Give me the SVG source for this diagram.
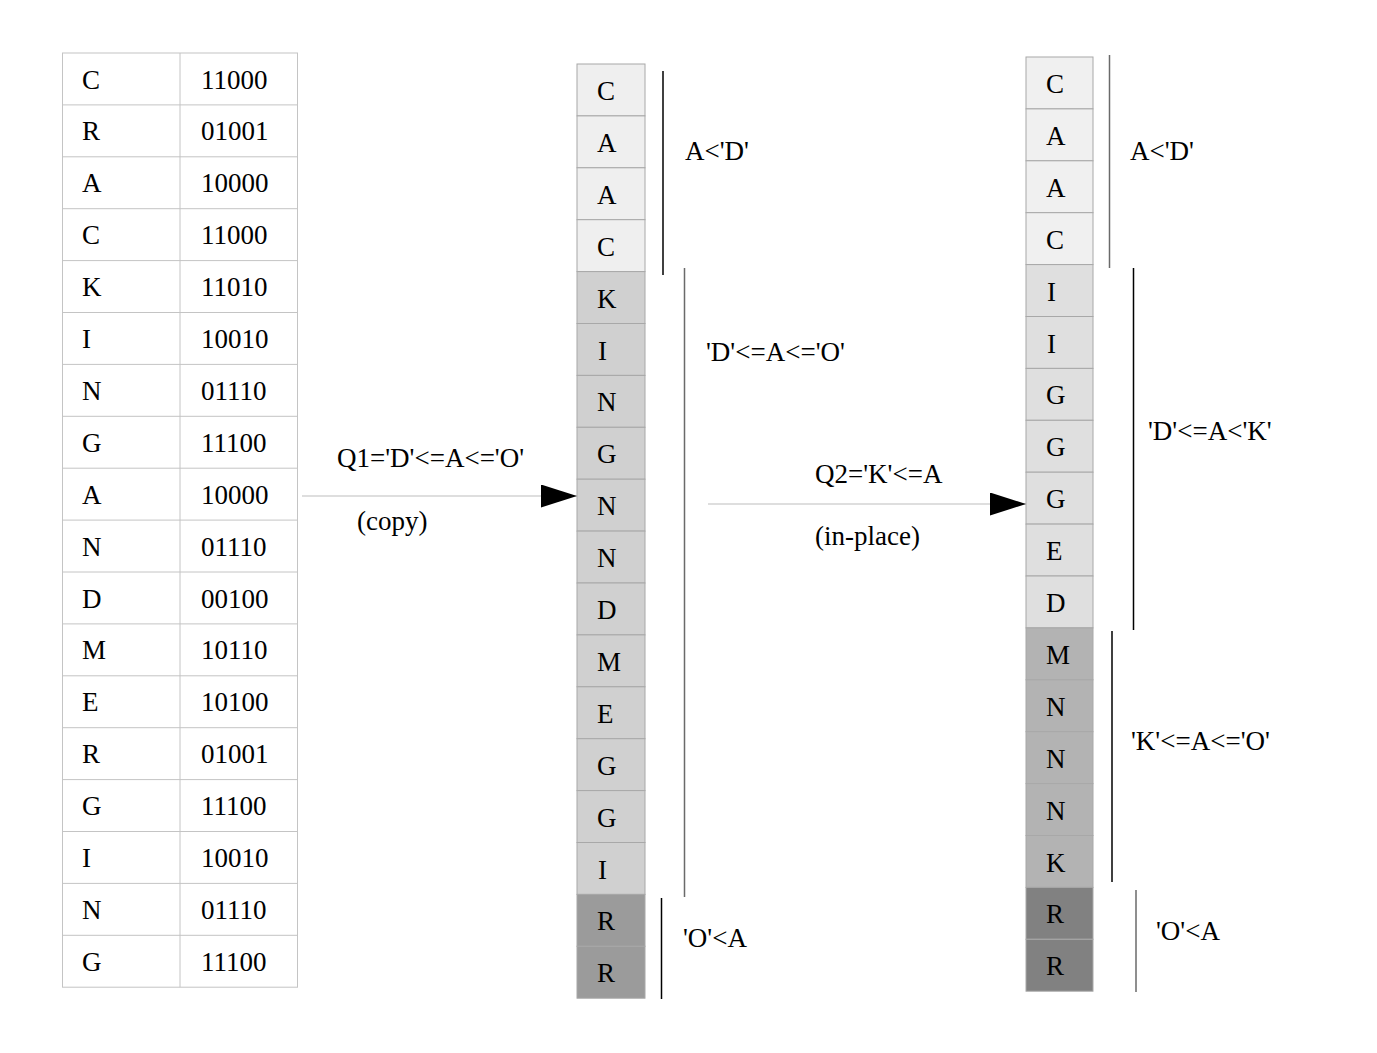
<svg xmlns="http://www.w3.org/2000/svg" width="1377" height="1053" viewBox="0 0 1377 1053">
<defs>
<style>
text{font-family:"Liberation Serif","Times New Roman",serif;font-size:27px;fill:#000}
.tc{fill:#fff;stroke:#c4c4c4;stroke-width:1}
.c{stroke:#a8a8a8;stroke-width:1}
.l1{fill:#efefef}.m1{fill:#d0d0d0}.d1{fill:#9b9b9b}
.l2{fill:#f0f0f0}.m2{fill:#dfdfdf}.n2{fill:#b3b3b3}.d2{fill:#818181}
.br{stroke:#000;stroke-width:1.5;fill:none}
.bg{stroke:#6a6a6a;stroke-width:1.5;fill:none}
.ar{stroke:#bdbdbd;stroke-width:1.2;fill:none}
</style>
<marker id="ah" markerWidth="36" markerHeight="23" refX="36" refY="11.5" orient="auto" markerUnits="userSpaceOnUse"><path d="M0,0 L36,11.5 L0,23 Z" fill="#000"/></marker>
</defs>
<g id="table">
<rect class="tc" x="62.5" y="53" width="235" height="934.2"/>
<line class="tc" x1="180" y1="53" x2="180" y2="987.2"/>
<g stroke="#c4c4c4" stroke-width="1">
<line x1="62.5" y1="104.9" x2="297.5" y2="104.9"/><line x1="62.5" y1="156.8" x2="297.5" y2="156.8"/><line x1="62.5" y1="208.7" x2="297.5" y2="208.7"/><line x1="62.5" y1="260.6" x2="297.5" y2="260.6"/><line x1="62.5" y1="312.5" x2="297.5" y2="312.5"/><line x1="62.5" y1="364.4" x2="297.5" y2="364.4"/><line x1="62.5" y1="416.3" x2="297.5" y2="416.3"/><line x1="62.5" y1="468.2" x2="297.5" y2="468.2"/><line x1="62.5" y1="520.1" x2="297.5" y2="520.1"/><line x1="62.5" y1="572" x2="297.5" y2="572"/><line x1="62.5" y1="623.9" x2="297.5" y2="623.9"/><line x1="62.5" y1="675.8" x2="297.5" y2="675.8"/><line x1="62.5" y1="727.7" x2="297.5" y2="727.7"/><line x1="62.5" y1="779.6" x2="297.5" y2="779.6"/><line x1="62.5" y1="831.5" x2="297.5" y2="831.5"/><line x1="62.5" y1="883.4" x2="297.5" y2="883.4"/><line x1="62.5" y1="935.3" x2="297.5" y2="935.3"/>
</g>
<g>
<text x="82" y="88.5">C</text><text x="201" y="88.5">11000</text>
<text x="82" y="140.4">R</text><text x="201" y="140.4">01001</text>
<text x="82" y="192.3">A</text><text x="201" y="192.3">10000</text>
<text x="82" y="244.2">C</text><text x="201" y="244.2">11000</text>
<text x="82" y="296.1">K</text><text x="201" y="296.1">11010</text>
<text x="82" y="348">I</text><text x="201" y="348">10010</text>
<text x="82" y="399.9">N</text><text x="201" y="399.9">01110</text>
<text x="82" y="451.8">G</text><text x="201" y="451.8">11100</text>
<text x="82" y="503.7">A</text><text x="201" y="503.7">10000</text>
<text x="82" y="555.6">N</text><text x="201" y="555.6">01110</text>
<text x="82" y="607.5">D</text><text x="201" y="607.5">00100</text>
<text x="82" y="659.4">M</text><text x="201" y="659.4">10110</text>
<text x="82" y="711.3">E</text><text x="201" y="711.3">10100</text>
<text x="82" y="763.2">R</text><text x="201" y="763.2">01001</text>
<text x="82" y="815.1">G</text><text x="201" y="815.1">11100</text>
<text x="82" y="867">I</text><text x="201" y="867">10010</text>
<text x="82" y="918.9">N</text><text x="201" y="918.9">01110</text>
<text x="82" y="970.8">G</text><text x="201" y="970.8">11100</text>
</g>
</g>
<g id="middle-column">
<rect class="c l1" x="577" y="64" width="68" height="51.9"/>
<rect class="c l1" x="577" y="115.9" width="68" height="51.9"/>
<rect class="c l1" x="577" y="167.8" width="68" height="51.9"/>
<rect class="c l1" x="577" y="219.7" width="68" height="51.9"/>
<rect class="c m1" x="577" y="271.6" width="68" height="51.9"/>
<rect class="c m1" x="577" y="323.5" width="68" height="51.9"/>
<rect class="c m1" x="577" y="375.4" width="68" height="51.9"/>
<rect class="c m1" x="577" y="427.3" width="68" height="51.9"/>
<rect class="c m1" x="577" y="479.2" width="68" height="51.9"/>
<rect class="c m1" x="577" y="531.1" width="68" height="51.9"/>
<rect class="c m1" x="577" y="583" width="68" height="51.9"/>
<rect class="c m1" x="577" y="634.9" width="68" height="51.9"/>
<rect class="c m1" x="577" y="686.8" width="68" height="51.9"/>
<rect class="c m1" x="577" y="738.7" width="68" height="51.9"/>
<rect class="c m1" x="577" y="790.6" width="68" height="51.9"/>
<rect class="c m1" x="577" y="842.5" width="68" height="51.9"/>
<rect class="c d1" x="577" y="894.4" width="68" height="51.9"/>
<rect class="c d1" x="577" y="946.3" width="68" height="51.9"/>
<text x="597" y="100">C</text>
<text x="597" y="151.9">A</text>
<text x="597" y="203.8">A</text>
<text x="597" y="255.7">C</text>
<text x="597" y="307.6">K</text>
<text x="598" y="359.5">I</text>
<text x="597" y="411.4">N</text>
<text x="597" y="463.3">G</text>
<text x="597" y="515.2">N</text>
<text x="597" y="567.1">N</text>
<text x="597" y="619">D</text>
<text x="597" y="670.9">M</text>
<text x="597" y="722.8">E</text>
<text x="597" y="774.7">G</text>
<text x="597" y="826.6">G</text>
<text x="598" y="878.5">I</text>
<text x="597" y="930.4">R</text>
<text x="597" y="982.3">R</text>
</g>
<g id="middle-ranges">
<line class="br" x1="663" y1="71" x2="663" y2="275"/>
<text x="685" y="160">A&lt;'D'</text>
<line class="bg" x1="684.5" y1="268" x2="684.5" y2="897"/>
<text x="706" y="361">'D'&lt;=A&lt;='O'</text>
<line class="br" x1="661.5" y1="898" x2="661.5" y2="999"/>
<text x="683" y="947">'O'&lt;A</text>
</g>
<g id="right-column">
<rect class="c l2" x="1026" y="57" width="67" height="51.9"/>
<rect class="c l2" x="1026" y="108.9" width="67" height="51.9"/>
<rect class="c l2" x="1026" y="160.8" width="67" height="51.9"/>
<rect class="c l2" x="1026" y="212.7" width="67" height="51.9"/>
<rect class="c m2" x="1026" y="264.6" width="67" height="51.9"/>
<rect class="c m2" x="1026" y="316.5" width="67" height="51.9"/>
<rect class="c m2" x="1026" y="368.4" width="67" height="51.9"/>
<rect class="c m2" x="1026" y="420.3" width="67" height="51.9"/>
<rect class="c m2" x="1026" y="472.2" width="67" height="51.9"/>
<rect class="c m2" x="1026" y="524.1" width="67" height="51.9"/>
<rect class="c m2" x="1026" y="576" width="67" height="51.9"/>
<rect class="c n2" x="1026" y="627.9" width="67" height="51.9"/>
<rect class="c n2" x="1026" y="679.8" width="67" height="51.9"/>
<rect class="c n2" x="1026" y="731.7" width="67" height="51.9"/>
<rect class="c n2" x="1026" y="783.6" width="67" height="51.9"/>
<rect class="c n2" x="1026" y="835.5" width="67" height="51.9"/>
<rect class="c d2" x="1026" y="887.4" width="67" height="51.9"/>
<rect class="c d2" x="1026" y="939.3" width="67" height="51.9"/>
<text x="1046" y="93">C</text>
<text x="1046" y="144.9">A</text>
<text x="1046" y="196.8">A</text>
<text x="1046" y="248.7">C</text>
<text x="1047" y="300.6">I</text>
<text x="1047" y="352.5">I</text>
<text x="1046" y="404.4">G</text>
<text x="1046" y="456.3">G</text>
<text x="1046" y="508.2">G</text>
<text x="1046" y="560.1">E</text>
<text x="1046" y="612">D</text>
<text x="1046" y="663.9">M</text>
<text x="1046" y="715.8">N</text>
<text x="1046" y="767.7">N</text>
<text x="1046" y="819.6">N</text>
<text x="1046" y="871.5">K</text>
<text x="1046" y="923.4">R</text>
<text x="1046" y="975.3">R</text>
</g>
<g id="right-ranges">
<line class="bg" x1="1109.5" y1="55" x2="1109.5" y2="268"/>
<text x="1130" y="160">A&lt;'D'</text>
<line class="br" x1="1133.5" y1="268" x2="1133.5" y2="630"/>
<text x="1148" y="440">'D'&lt;=A&lt;'K'</text>
<line class="br" x1="1112" y1="631" x2="1112" y2="882"/>
<text x="1131" y="750">'K'&lt;=A&lt;='O'</text>
<line class="bg" x1="1136" y1="890" x2="1136" y2="992"/>
<text x="1156" y="940">'O'&lt;A</text>
</g>
<g id="connectors">
<line class="ar" x1="302" y1="496" x2="577" y2="496" marker-end="url(#ah)"/>
<text x="337" y="467">Q1='D'&lt;=A&lt;='O'</text>
<text x="357" y="530">(copy)</text>
<line class="ar" x1="708" y1="504" x2="1026" y2="504" marker-end="url(#ah)"/>
<text x="815" y="483">Q2='K'&lt;=A</text>
<text x="815" y="545">(in-place)</text>
</g>
</svg>
